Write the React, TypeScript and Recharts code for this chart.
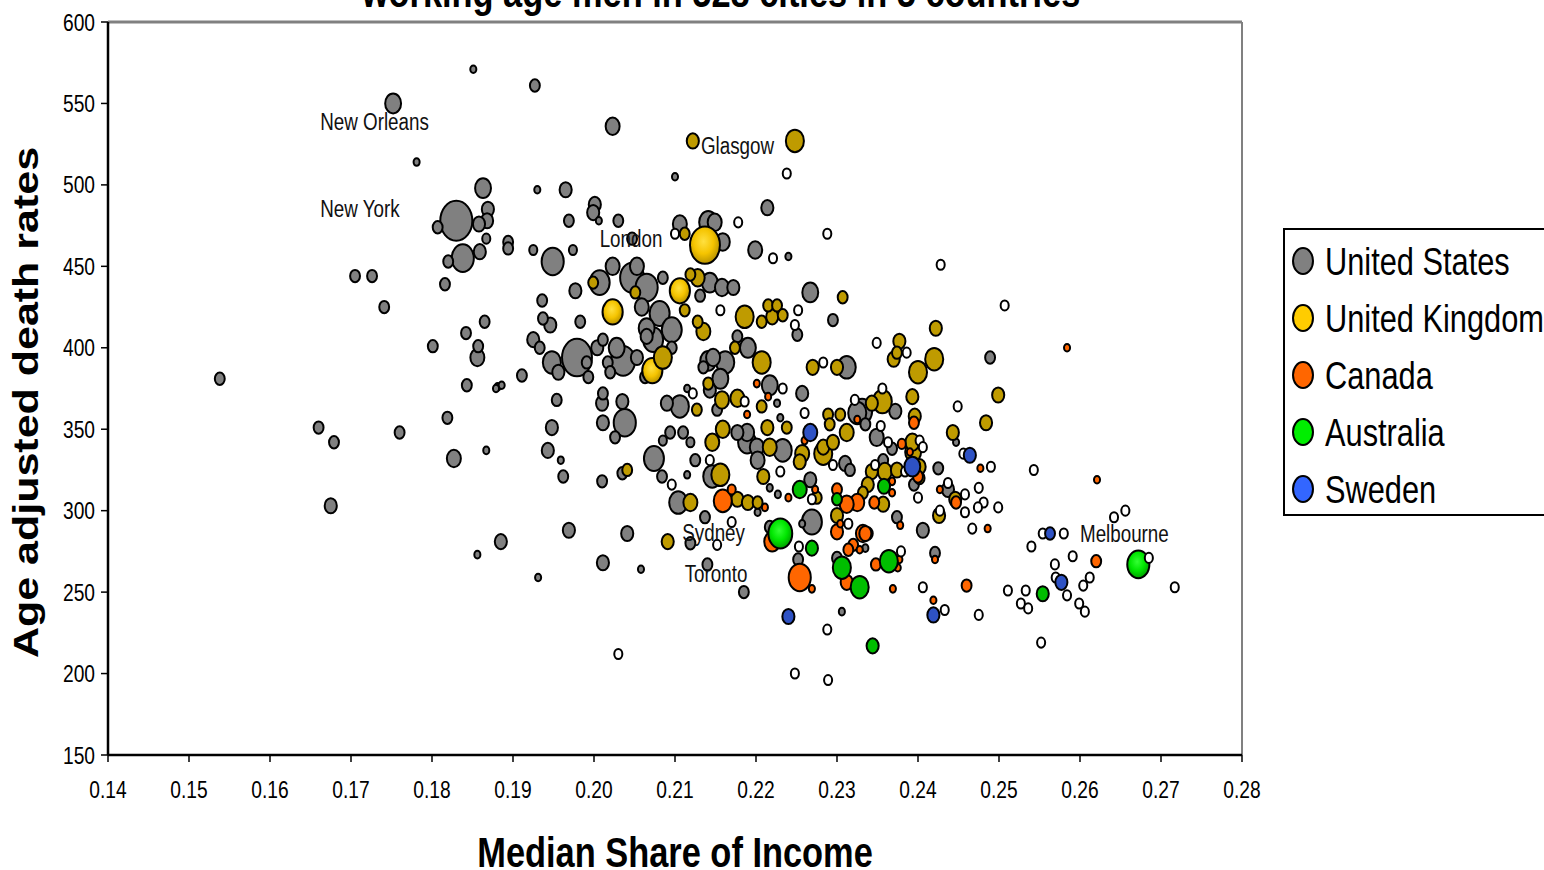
import { Label, ReferenceLine, Scatter, ScatterChart, XAxis, YAxis, ZAxis } from "recharts";

// [median share of income, age adjusted death rate, population weight]
type City = [number, number, number];

const usCities: City[] = [
  [0.1752, 550, 3.1], [0.1851, 571, 0.45], [0.1781, 514, 0.45], [0.1863, 498, 3.1], [0.183, 478, 12.6],
  [0.1807, 474, 1.2], [0.1869, 485, 1.8], [0.1868, 478, 1.8], [0.1858, 476, 1.8], [0.1867, 467, 0.8],
  [0.1838, 455, 6], [0.182, 453, 1.2], [0.1859, 459, 1.8], [0.1927, 561, 1.2], [0.2023, 536, 2.4],
  [0.21, 505, 0.45], [0.193, 497, 0.45], [0.1965, 497, 1.8], [0.2001, 488, 1.8], [0.1999, 483, 1.8],
  [0.2006, 478, 0.45], [0.1969, 478, 1.2], [0.203, 478, 1.2], [0.2214, 486, 1.8], [0.2106, 476, 2.4],
  [0.2141, 477, 4], [0.2149, 477, 2.4], [0.2159, 465, 2.4], [0.2199, 460, 2.4], [0.224, 456, 0.45],
  [0.2047, 467, 1.2], [0.1925, 460, 0.8], [0.1974, 460, 0.8], [0.1894, 465, 1.2], [0.1894, 461, 1.2],
  [0.1949, 453, 6], [0.2023, 450, 2.4], [0.2053, 450, 2.4], [0.2007, 440, 4.9], [0.2047, 443, 7],
  [0.2065, 437, 6], [0.1977, 435, 1.8], [0.1936, 429, 1.2], [0.2085, 443, 1.2], [0.2143, 440, 3.1],
  [0.2158, 437, 2.4], [0.2172, 437, 1.8], [0.2131, 432, 1.2], [0.2267, 434, 3.1], [0.2059, 425, 2.4],
  [0.2081, 421, 4.9], [0.1983, 416, 1.2], [0.1946, 414, 1.8], [0.1937, 418, 1.2], [0.2251, 408, 1.2],
  [0.2295, 417, 1.2], [0.2065, 412, 3.1], [0.2096, 411, 4.9], [0.2073, 405, 4.9], [0.2065, 407, 1.8],
  [0.1925, 405, 1.8], [0.1933, 400, 1.2], [0.1948, 391, 4], [0.1956, 385, 1.8], [0.1979, 394, 11],
  [0.1991, 391, 1.2], [0.1993, 382, 1.2], [0.2004, 400, 1.8], [0.2011, 405, 1.2], [0.2017, 391, 1.2],
  [0.2036, 392, 7], [0.2028, 400, 3.1], [0.2053, 394, 1.8], [0.202, 385, 1.2], [0.2063, 382, 1.2],
  [0.2096, 400, 1.2], [0.1911, 383, 1.2], [0.1881, 376, 0.45], [0.1886, 377, 0.45], [0.2141, 392, 3.1],
  [0.2162, 391, 4], [0.2135, 388, 1.2], [0.2147, 394, 2.4], [0.219, 400, 3.1], [0.2177, 407, 1.2],
  [0.2156, 381, 3.1], [0.2143, 374, 1.8], [0.2217, 377, 3.1], [0.2257, 372, 1.8], [0.2312, 388, 4],
  [0.2115, 375, 0.45], [0.2106, 364, 4], [0.209, 366, 1.8], [0.2226, 366, 0.45], [0.2152, 362, 1.2],
  [0.1954, 368, 1.2], [0.2011, 372, 1.2], [0.201, 366, 1.8], [0.2035, 367, 1.8], [0.2038, 354, 6],
  [0.2011, 354, 1.8], [0.2026, 345, 1.2], [0.1948, 351, 1.8], [0.1943, 337, 1.8], [0.1959, 331, 0.45],
  [0.1962, 321, 1.2], [0.201, 318, 1.2], [0.2035, 323, 1.2], [0.2325, 360, 4], [0.223, 357, 0.45],
  [0.2177, 348, 1.8], [0.2189, 348, 2.4], [0.2189, 342, 4], [0.2201, 339, 2.4], [0.2233, 337, 4],
  [0.231, 329, 1.8], [0.2316, 325, 1.2], [0.2202, 331, 2.4], [0.2217, 314, 0.45], [0.2267, 319, 1.8],
  [0.2094, 348, 1.2], [0.2085, 343, 0.8], [0.211, 348, 1.2], [0.2119, 342, 0.8], [0.2074, 332, 4.9],
  [0.2125, 331, 1.2], [0.2146, 321, 4], [0.2084, 321, 1.2], [0.2115, 322, 0.45], [0.2227, 310, 0.45],
  [0.2104, 305, 4], [0.2137, 296, 1.2], [0.2202, 299, 0.45], [0.2269, 293, 4.9], [0.2257, 292, 0.45],
  [0.2217, 290, 1.2], [0.2252, 270, 1.2], [0.2335, 277, 0.45], [0.23, 271, 1.2], [0.2306, 238, 0.45],
  [0.1885, 281, 1.8], [0.1969, 288, 1.8], [0.2041, 286, 1.8], [0.2119, 280, 1.2], [0.2011, 268, 1.8],
  [0.2058, 264, 0.45], [0.1931, 259, 0.45], [0.214, 267, 1.2], [0.2185, 250, 1.2], [0.1705, 444, 1.2],
  [0.1726, 444, 1.2], [0.1816, 439, 1.2], [0.1741, 425, 1.2], [0.1865, 416, 1.2], [0.1842, 409, 1.2],
  [0.1801, 401, 1.2], [0.1857, 401, 1.2], [0.1856, 394, 2.4], [0.1538, 381, 1.2], [0.1843, 377, 1.2],
  [0.1879, 375, 0.45], [0.1819, 357, 1.2], [0.166, 351, 1.2], [0.1679, 342, 1.2], [0.176, 348, 1.2],
  [0.1827, 332, 2.4], [0.1867, 337, 0.45], [0.1675, 303, 1.8], [0.1856, 273, 0.45], [0.2489, 394, 1.2],
  [0.2331, 361, 4.9], [0.2372, 361, 1.8], [0.2335, 353, 1.2], [0.2349, 345, 2.4], [0.2447, 342, 0.45],
  [0.2368, 338, 1.2], [0.2357, 331, 1.2], [0.2425, 326, 1.2], [0.2395, 316, 1.2], [0.2437, 313, 1.8],
  [0.2374, 296, 1.2], [0.2406, 288, 1.8], [0.2421, 274, 1.2],
];

const ukCities: City[] = [
  [0.2122, 527, 1.8], [0.2248, 527, 4], [0.2112, 470, 1.2], [0.2137, 463, 11], [0.1999, 440, 1.2],
  [0.2051, 434, 1.2], [0.2106, 435, 5], [0.2128, 443, 2.4], [0.2119, 445, 1.2], [0.2307, 431, 1.2],
  [0.2023, 422, 5], [0.2112, 423, 1.2], [0.2128, 416, 1.2], [0.2135, 410, 2.4], [0.2186, 419, 4],
  [0.2215, 426, 1.2], [0.2226, 426, 1.2], [0.2233, 420, 1.2], [0.2207, 416, 1.2], [0.222, 419, 1.8],
  [0.2072, 386, 5], [0.2085, 394, 4], [0.2174, 400, 1.2], [0.2207, 391, 4], [0.2141, 378, 1.2],
  [0.227, 388, 1.8], [0.23, 388, 1.8], [0.2158, 368, 2.4], [0.2177, 369, 2.4], [0.2127, 362, 1.2],
  [0.2207, 364, 1.2], [0.2289, 359, 1.2], [0.2304, 359, 1.2], [0.2291, 353, 1.2], [0.2312, 348, 2.4],
  [0.2238, 351, 1.2], [0.2214, 351, 1.8], [0.2159, 350, 2.4], [0.2146, 342, 2.4], [0.2217, 339, 2.4],
  [0.2257, 335, 2.4], [0.2254, 330, 1.8], [0.2283, 339, 1.8], [0.2295, 342, 1.8], [0.2283, 335, 4],
  [0.2209, 321, 1.8], [0.2156, 322, 4], [0.2041, 325, 1.2], [0.2177, 307, 1.8], [0.219, 305, 1.8],
  [0.2202, 305, 1.2], [0.2275, 308, 1.2], [0.2332, 311, 1.2], [0.2119, 305, 2.4], [0.2422, 412, 1.8],
  [0.2377, 404, 1.8], [0.237, 393, 1.8], [0.2374, 397, 1.2], [0.242, 393, 4], [0.24, 385, 4],
  [0.2356, 367, 4.4], [0.2343, 366, 1.8], [0.2393, 370, 1.8], [0.2499, 371, 1.8], [0.2396, 358, 1.8],
  [0.2484, 354, 1.8], [0.2443, 348, 1.8], [0.2393, 342, 2.4], [0.2394, 336, 3.1], [0.2402, 327, 1.8],
  [0.2402, 320, 1.2], [0.2359, 324, 2.4], [0.2343, 324, 1.8], [0.2374, 325, 1.8], [0.2338, 316, 1.8],
  [0.2446, 307, 1.8], [0.2357, 304, 1.8], [0.2426, 297, 1.8], [0.23, 297, 1.8], [0.2091, 281, 1.8],
  [0.2338, 286, 1.2],
];

const canadaCities: City[] = [
  [0.2201, 378, 0.45], [0.2215, 370, 0.45], [0.2325, 356, 0.45], [0.2189, 359, 0.45], [0.226, 343, 0.45],
  [0.2273, 313, 0.45], [0.23, 313, 1.2], [0.2159, 306, 4], [0.217, 313, 0.8], [0.2211, 302, 0.45],
  [0.224, 308, 0.45], [0.2325, 305, 2.4], [0.2584, 400, 0.45], [0.2395, 354, 1.2], [0.238, 341, 0.8],
  [0.239, 336, 0.45], [0.24, 321, 1.2], [0.2477, 326, 0.45], [0.2621, 319, 0.45], [0.2368, 318, 0.45],
  [0.2368, 311, 0.45], [0.2427, 313, 0.45], [0.2447, 305, 1.2], [0.2346, 305, 1.2], [0.2378, 291, 0.45],
  [0.2335, 286, 1.8], [0.2486, 289, 0.45], [0.2421, 270, 0.45], [0.2348, 267, 1.2], [0.2377, 270, 0.45],
  [0.262, 269, 1.2], [0.2369, 252, 0.45], [0.246, 254, 1.2], [0.2419, 245, 0.45], [0.222, 281, 3.1],
  [0.2254, 259, 6], [0.2269, 252, 0.45], [0.23, 287, 1.8], [0.2304, 292, 0.45], [0.2312, 304, 2.4],
  [0.2332, 286, 2.4], [0.232, 279, 1.2], [0.2314, 276, 1.2], [0.2328, 276, 0.45], [0.2312, 256, 1.8],
  [0.2375, 265, 0.45],
];

const australiaCities: City[] = [
  [0.2254, 313, 2.4], [0.23, 307, 1.2], [0.2358, 315, 1.8], [0.223, 286, 7], [0.2269, 277, 1.8],
  [0.2306, 265, 4], [0.2328, 253, 4], [0.2364, 269, 4], [0.2672, 267, 6], [0.2554, 249, 1.8],
  [0.2344, 217, 1.8],
];

const swedenCities: City[] = [
  [0.2267, 348, 2.4], [0.2464, 334, 1.8], [0.2393, 327, 3.1], [0.2563, 286, 1.2], [0.2577, 256, 1.8],
  [0.2419, 236, 1.8], [0.224, 235, 1.8],
];

// cities outside the five named countries, all small
const otherCities: [number, number][] = [
  [0.2238, 507], [0.2178, 477], [0.2288, 470], [0.21, 470], [0.2221, 455], [0.2428, 451], [0.2507, 426],
  [0.2156, 423], [0.2252, 423], [0.2248, 414], [0.2283, 391], [0.2349, 403], [0.2386, 397], [0.2233, 375],
  [0.2122, 372], [0.2322, 368], [0.2186, 367], [0.2356, 375], [0.226, 360], [0.2449, 364], [0.2354, 352],
  [0.2402, 343], [0.2363, 342], [0.2406, 339], [0.2456, 335], [0.2143, 331], [0.2295, 328], [0.2347, 328],
  [0.2384, 324], [0.249, 327], [0.2543, 325], [0.223, 324], [0.2096, 316], [0.2437, 317], [0.2475, 314],
  [0.2458, 310], [0.24, 308], [0.2269, 307], [0.2481, 305], [0.2499, 302], [0.2656, 300], [0.2474, 302],
  [0.2427, 300], [0.2458, 299], [0.2467, 289], [0.2554, 286], [0.258, 286], [0.2642, 296], [0.254, 278],
  [0.2379, 275], [0.2591, 272], [0.2685, 271], [0.2569, 267], [0.2406, 253], [0.2511, 251], [0.2533, 251],
  [0.257, 259], [0.2612, 259], [0.2604, 254], [0.2584, 248], [0.2717, 253], [0.2527, 243], [0.2536, 240],
  [0.2599, 243], [0.2606, 238], [0.2433, 239], [0.2475, 236], [0.2552, 219], [0.217, 293], [0.2152, 279],
  [0.2253, 278], [0.2314, 292], [0.2288, 227], [0.2248, 200], [0.2289, 196], [0.203, 212],
];
const otherWeight = 0.8;

const labelNames = ["New Orleans", "New York", "London", "Glasgow", "Sydney", "Toronto", "Melbourne"];
const labelShare = [0.1662, 0.1662, 0.2007, 0.2132, 0.2109, 0.2112, 0.26];
const labelRate = [533.7, 480.3, 461.9, 519, 281.4, 256.2, 280.8];

const xTicks = [0.14, 0.15, 0.16, 0.17, 0.18, 0.19, 0.2, 0.21, 0.22, 0.23, 0.24, 0.25, 0.26, 0.27, 0.28];
const yTicks = [150, 200, 250, 300, 350, 400, 450, 500, 550, 600];

const legendItems = [
  { name: "United States", color: "#808080" },
  { name: "United Kingdom", color: "#FFCC00" },
  { name: "Canada", color: "#FF6600" },
  { name: "Australia", color: "#00EE00" },
  { name: "Sweden", color: "#3366FF" },
];

const FONT = '"Liberation Sans", Arial, Helvetica, sans-serif';
const SQUEEZE = 0.8;

// big bubbles draw on the bottom so the small ones stay visible
const rows = (cities: City[]) =>
  cities.map(([x, y, z]) => ({ x, y, z })).sort((a, b) => b.z - a.z);

const otherRows = otherCities.map(([x, y]) => ({ x, y, z: otherWeight }));
const labelRows = labelNames.map((name, i) => ({ x: labelShare[i], y: labelRate[i], name }));

function bubble(fill: string, glow?: string) {
  return (props: any) => {
    const { cx, cy, width, payload } = props;
    if (cx == null || cy == null || !isFinite(width)) return <g />;
    const rx = width / 2;
    const ry = rx * 1.25;
    const paint = glow && payload.z >= 4.5 ? `url(#${glow})` : fill;
    return <ellipse cx={cx} cy={cy} rx={rx} ry={ry} fill={paint} stroke="#000" strokeWidth={2} />;
  };
}

const cityLabel = (props: any) => {
  const { cx, cy, payload } = props;
  if (cx == null || cy == null) return <g />;
  return (
    <text
      transform={`translate(${cx},${cy}) scale(${SQUEEZE},1)`}
      fontFamily={FONT}
      fontSize={23.5}
      fill="#111"
    >
      {payload.name}
    </text>
  );
};

const XTick = (props: any) => (
  <text
    transform={`translate(${props.x},${props.y + 36}) scale(${SQUEEZE},1)`}
    textAnchor="middle"
    fontFamily={FONT}
    fontSize={24}
    fill="#000"
  >
    {Number(props.payload.value).toFixed(2)}
  </text>
);

const YTick = (props: any) => (
  <text
    transform={`translate(${props.x},${props.y + 8.6}) scale(${SQUEEZE},1)`}
    textAnchor="end"
    fontFamily={FONT}
    fontSize={24}
    fill="#000"
  >
    {props.payload.value}
  </text>
);

const XTitle = (props: any) => {
  const vb = props.viewBox;
  return (
    <text
      transform={`translate(${vb.x + vb.width / 2},${vb.y + 112}) scale(${SQUEEZE},1)`}
      textAnchor="middle"
      fontFamily={FONT}
      fontWeight="bold"
      fontSize={43}
      fill="#000"
    >
      Median Share of Income
    </text>
  );
};

const YTitle = (props: any) => {
  const vb = props.viewBox;
  return (
    <text
      transform={`translate(${vb.x - 10},${vb.y + vb.height / 2 + 14}) rotate(-90) scale(1,${SQUEEZE})`}
      textAnchor="middle"
      fontFamily={FONT}
      fontWeight="bold"
      fontSize={43}
      fill="#000"
    >
      Age adjusted death rates
    </text>
  );
};

function CountryLegend() {
  return (
    <svg
      width={270}
      height={292}
      style={{ position: "absolute", left: 1283, top: 228 }}
    >
      <rect x={1} y={1} width={300} height={286} fill="#fff" stroke="#000" strokeWidth={2} />
      {legendItems.map((item, i) => (
        <g key={item.name}>
          <ellipse cx={20} cy={33 + i * 57} rx={10} ry={13} fill={item.color} stroke="#000" strokeWidth={2} />
          <text
            transform={`translate(42,${47 + i * 57}) scale(0.81,1)`}
            fontFamily={FONT}
            fontSize={38}
            fill="#000"
          >
            {item.name}
          </text>
        </g>
      ))}
    </svg>
  );
}

export default function App() {
  return (
    <div
      style={{
        position: "absolute",
        left: 0,
        top: 0,
        width: 1544,
        height: 870,
        overflow: "hidden",
        background: "#fff",
      }}
    >
      <ScatterChart width={1544} height={870} margin={{ top: 22, right: 302, bottom: 55, left: 48 }}>
        <defs>
          <radialGradient id="uk-glow" cx="45%" cy="40%" r="60%">
            <stop offset="0%" stopColor="#FFE040" />
            <stop offset="55%" stopColor="#F5C400" />
            <stop offset="100%" stopColor="#B89300" />
          </radialGradient>
          <radialGradient id="au-glow" cx="45%" cy="40%" r="60%">
            <stop offset="0%" stopColor="#33FF33" />
            <stop offset="55%" stopColor="#00E600" />
            <stop offset="100%" stopColor="#00A000" />
          </radialGradient>
        </defs>
        <XAxis
          type="number"
          dataKey="x"
          domain={[0.14, 0.28]}
          ticks={xTicks}
          interval={0}
          height={60}
          tickSize={7}
          tickMargin={0}
          tick={XTick}
          axisLine={{ stroke: "#000", strokeWidth: 2.5 }}
          tickLine={{ stroke: "#000", strokeWidth: 1.5 }}
        >
          <Label content={XTitle} />
        </XAxis>
        <YAxis
          type="number"
          dataKey="y"
          domain={[150, 600]}
          ticks={yTicks}
          interval={0}
          width={60}
          tickSize={7}
          tickMargin={6}
          tick={YTick}
          axisLine={{ stroke: "#000", strokeWidth: 2.5 }}
          tickLine={{ stroke: "#000", strokeWidth: 1.5 }}
        >
          <Label content={YTitle} />
        </YAxis>
        <ZAxis type="number" dataKey="z" domain={[0, 18]} range={[0, 1152]} />
        <ReferenceLine y={600} stroke="#808080" strokeWidth={3} ifOverflow="visible" />
        <ReferenceLine x={0.28} stroke="#808080" strokeWidth={2} ifOverflow="visible" />

        <Scatter name="United States" data={rows(usCities)} shape={bubble("#808080")} isAnimationActive={false} />
        <Scatter name="United Kingdom" data={rows(ukCities)} shape={bubble("#BF9B00", "uk-glow")} isAnimationActive={false} />
        <Scatter name="Canada" data={rows(canadaCities)} shape={bubble("#FF6600")} isAnimationActive={false} />
        <Scatter name="Australia" data={rows(australiaCities)} shape={bubble("#00BE00", "au-glow")} isAnimationActive={false} />
        <Scatter name="Other" data={otherRows} shape={bubble("#FFFFFF")} isAnimationActive={false} />
        <Scatter name="Sweden" data={rows(swedenCities)} shape={bubble("#2E52C4")} isAnimationActive={false} />
        <Scatter name="labels" data={labelRows} shape={cityLabel} isAnimationActive={false} />
      </ScatterChart>

      <svg width={1544} height={30} style={{ position: "absolute", left: 0, top: 0 }}>
        <text
          transform={`translate(721,7) scale(${SQUEEZE},1)`}
          textAnchor="middle"
          fontFamily={FONT}
          fontWeight="bold"
          fontSize={43}
          fill="#000"
        >
          working age men in 528 cities in 5 countries
        </text>
      </svg>
      <CountryLegend />
    </div>
  );
}
